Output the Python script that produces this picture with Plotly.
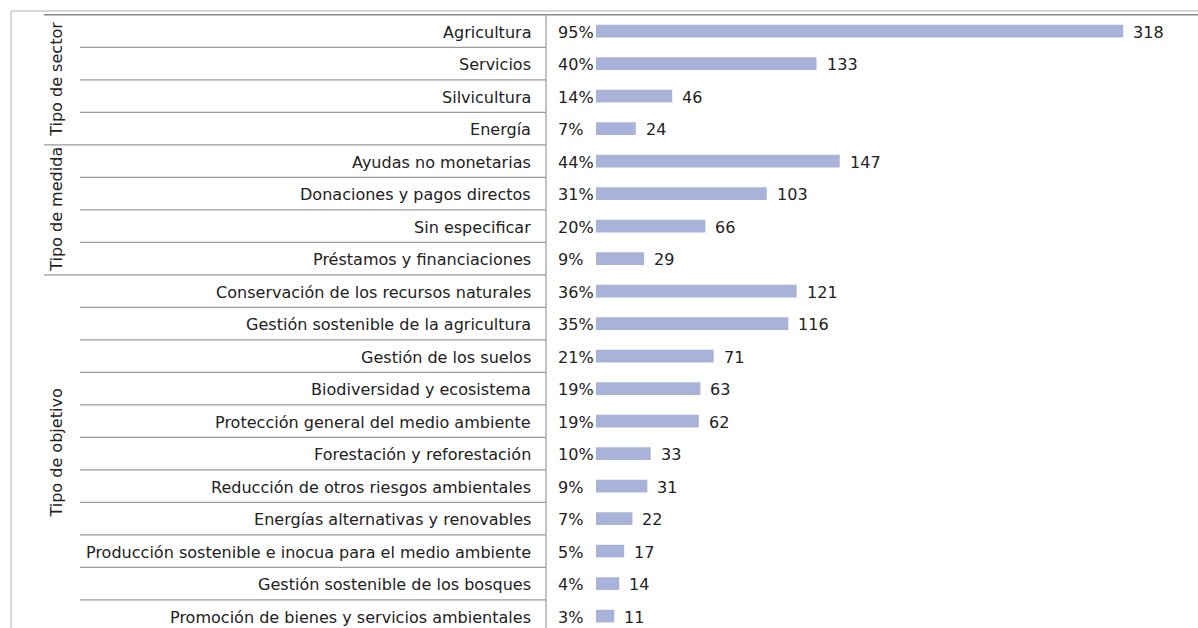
import plotly.graph_objects as go

CATEGORIAS = [
    "Agricultura",
    "Servicios",
    "Silvicultura",
    "Energía",
    "Ayudas no monetarias",
    "Donaciones y pagos directos",
    "Sin especificar",
    "Préstamos y financiaciones",
    "Conservación de los recursos naturales",
    "Gestión sostenible de la agricultura",
    "Gestión de los suelos",
    "Biodiversidad y ecosistema",
    "Protección general del medio ambiente",
    "Forestación y reforestación",
    "Reducción de otros riesgos ambientales",
    "Energías alternativas y renovables",
    "Producción sostenible e inocua para el medio ambiente",
    "Gestión sostenible de los bosques",
    "Promoción de bienes y servicios ambientales",
]
VALORES = [318, 133, 46, 24, 147, 103, 66, 29, 121, 116, 71, 63, 62, 33, 31, 22, 17, 14, 11]
PORCENTAJES = ["95%", "40%", "14%", "7%", "44%", "31%", "20%", "9%", "36%", "35%",
               "21%", "19%", "19%", "10%", "9%", "7%", "5%", "4%", "3%"]
GRUPOS = ["Tipo de sector", "Tipo de medida", "Tipo de objetivo"]
GRUPO_TAMANOS = [4, 4, 11]

W, H = 1198, 628
FONT = "DejaVu Sans, Verdana, sans-serif"
FONT_SIZE = 16.05
COLOR_BAR = "#A9B3D9"
COLOR_LINE = "#9A9A9A"
COLOR_TEXT = "#222222"


def px(x):
    return x / W


n = len(CATEGORIAS)
fig = go.Figure(
    go.Bar(
        x=VALORES,
        y=CATEGORIAS,
        orientation="h",
        marker={"color": COLOR_BAR, "line": {"width": 0}},
        width=0.39,
        hoverinfo="x+y",
    )
)

shapes = []
annotations = []
txt = {"size": FONT_SIZE, "color": COLOR_TEXT}

# marco exterior claro
shapes.append(dict(type="line", xref="paper", yref="paper", x0=px(11), x1=1, y0=1 - 11 / H, y1=1 - 11 / H,
                   line={"color": "#D8D8D8", "width": 2}))
shapes.append(dict(type="line", xref="paper", yref="paper", x0=px(11), x1=px(11), y0=0, y1=1 - 11 / H,
                   line={"color": "#D8D8D8", "width": 2}))
# línea superior oscura
shapes.append(dict(type="line", xref="paper", yref="y", x0=px(44), x1=1, y0=-0.5, y1=-0.5,
                   line={"color": "#8A8A8A", "width": 1.5}))
# línea vertical entre etiquetas y barras
shapes.append(dict(type="line", xref="paper", yref="paper", x0=px(546), x1=px(546), y0=0, y1=1 - 15 / H,
                   line={"color": COLOR_LINE, "width": 1.2}))

limites = set()
acc = 0
for size in GRUPO_TAMANOS[:-1]:
    acc += size
    limites.add(acc - 0.5)

for i in range(n - 1):
    b = i + 0.5
    x0 = 44 if b in limites else 80
    shapes.append(dict(type="line", xref="paper", yref="y", x0=px(x0), x1=px(546), y0=b, y1=b,
                       line={"color": COLOR_LINE, "width": 1.2}))

# etiquetas de grupo
start = 0
for grupo, size in zip(GRUPOS, GRUPO_TAMANOS):
    annotations.append(dict(xref="paper", yref="y", x=px(57), y=start + (size - 1) / 2, text=grupo,
                            textangle=-90, showarrow=False, xanchor="center", yanchor="middle", font=txt))
    start += size

# categorías, porcentajes y valores
for i, (cat, pct, val) in enumerate(zip(CATEGORIAS, PORCENTAJES, VALORES)):
    annotations.append(dict(xref="paper", yref="y", x=px(533), y=i, text=cat, showarrow=False,
                            xanchor="right", yanchor="middle", yshift=-1, font=txt))
    annotations.append(dict(xref="paper", yref="y", x=px(556), y=i, text=pct, showarrow=False,
                            xanchor="left", yanchor="middle", yshift=-1, font=txt))
    annotations.append(dict(xref="x", yref="y", x=val, y=i, text=str(val), showarrow=False,
                            xanchor="left", yanchor="middle", xshift=8, yshift=-1, font=txt))

fig.update_layout(
    width=W,
    height=H,
    margin={"l": 0, "r": 0, "t": 0, "b": 0},
    paper_bgcolor="white",
    plot_bgcolor="white",
    font={"family": FONT, "size": FONT_SIZE, "color": COLOR_TEXT},
    showlegend=False,
    shapes=shapes,
    annotations=annotations,
    xaxis={"domain": [px(596), 1], "range": [0, (W - 596) / 1.658], "visible": False, "fixedrange": True},
    yaxis={"type": "category", "categoryorder": "array", "categoryarray": CATEGORIAS,
           "range": [18.366, -0.957], "visible": False, "fixedrange": True},
)

fig.write_html("out.html", config={"displayModeBar": False},
               post_script="document.body.style.margin='0';")
